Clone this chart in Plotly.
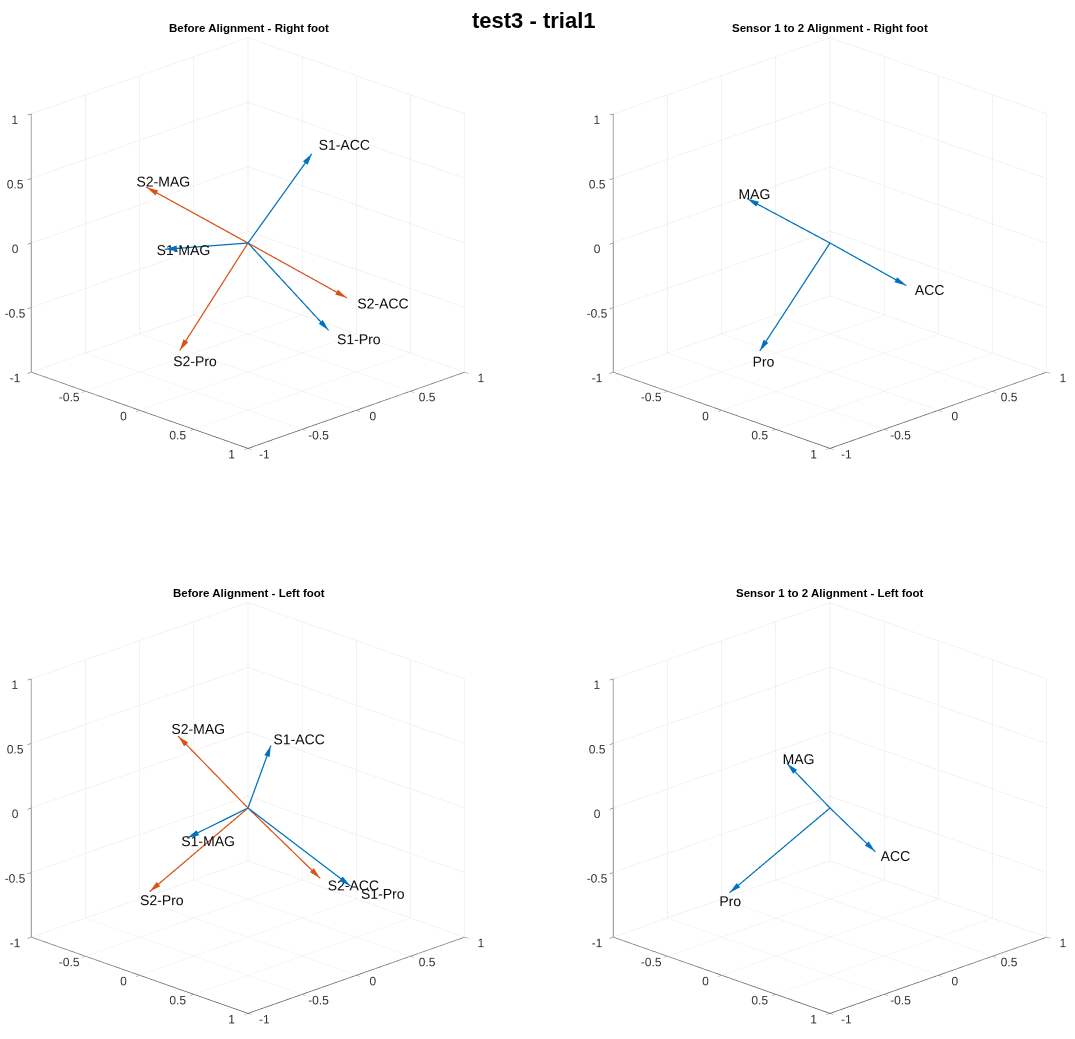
import math
import plotly.graph_objects as go

# Vector order in every set below: ACC, MAG, Pro  (x, y, z components)
vec_names = ["ACC", "MAG", "Pro"]

right_before_s1 = [(0.150, 0.440, 0.606), (-0.374, -0.395, -0.043), (0.514, 0.230, -0.593)]
right_before_s2 = [(0.546, 0.368, -0.373), (-0.560, -0.378, 0.379), (-0.141, -0.489, -0.729)]
left_before_s1 = [(0.004, 0.207, 0.424), (-0.232, -0.330, -0.204), (0.599, 0.346, -0.529)]
left_before_s2 = [(0.447, 0.219, -0.477), (-0.439, -0.206, 0.488), (-0.318, -0.590, -0.568)]
right_aligned = [(0.421, 0.283, -0.289), (-0.455, -0.311, 0.302), (-0.149, -0.499, -0.732)]
left_aligned = [(0.279, 0.138, -0.296), (-0.270, -0.126, 0.302), (-0.326, -0.601, -0.575)]

tick_vals = [-1, -0.5, 0, 0.5, 1]
tick_text = ["-1", "-0.5", "0", "0.5", "1"]

panel_titles = [
    "Before Alignment - Right foot",
    "Sensor 1 to 2 Alignment - Right foot",
    "Before Alignment - Left foot",
    "Sensor 1 to 2 Alignment - Left foot",
]
figure_title = "test3 - trial1"

BLUE = "#0072BD"
ORANGE = "#D95319"
FONT = "Liberation Sans, Arial, Helvetica, sans-serif"

LABEL_GAP = 1.1     # labels sit just beyond the arrow tips
LABEL_NUDGE = -0.06  # pulls labels back toward the tip (screen-left in this view)
HEAD_LEN = 0.08     # arrowhead length in data units

fig = go.Figure()


def add_arrows(scene, vectors, names, color):
    lx, ly, lz = [], [], []
    for (vx, vy, vz) in vectors:
        lx += [0, vx, None]
        ly += [0, vy, None]
        lz += [0, vz, None]
    fig.add_trace(go.Scatter3d(
        x=lx, y=ly, z=lz, mode="lines", scene=scene,
        line=dict(color=color, width=2.5), hoverinfo="skip", showlegend=False))
    hu, hv, hw = [], [], []
    for (vx, vy, vz) in vectors:
        n = math.sqrt(vx * vx + vy * vy + vz * vz)
        hu.append(HEAD_LEN * vx / n)
        hv.append(HEAD_LEN * vy / n)
        hw.append(HEAD_LEN * vz / n)
    fig.add_trace(go.Cone(
        x=[v[0] for v in vectors], y=[v[1] for v in vectors], z=[v[2] for v in vectors],
        u=hu, v=hv, w=hw, anchor="tip", sizemode="raw", sizeref=1,
        colorscale=[[0, color], [1, color]], showscale=False, scene=scene,
        lighting=dict(ambient=1, diffuse=0, specular=0, fresnel=0), hoverinfo="skip"))
    fig.add_trace(go.Scatter3d(
        x=[LABEL_GAP * v[0] + LABEL_NUDGE for v in vectors],
        y=[LABEL_GAP * v[1] + LABEL_NUDGE for v in vectors],
        z=[LABEL_GAP * v[2] for v in vectors],
        mode="text", text=names, textposition="middle right", scene=scene,
        textfont=dict(family=FONT, size=14, color="#111111"),
        hoverinfo="skip", showlegend=False))


add_arrows("scene", right_before_s1, ["S1-" + n for n in vec_names], BLUE)
add_arrows("scene", right_before_s2, ["S2-" + n for n in vec_names], ORANGE)
add_arrows("scene2", right_aligned, vec_names, BLUE)
add_arrows("scene3", left_before_s1, ["S1-" + n for n in vec_names], BLUE)
add_arrows("scene3", left_before_s2, ["S2-" + n for n in vec_names], ORANGE)
add_arrows("scene4", left_aligned, vec_names, BLUE)

W, H = 1075, 1039
EL = math.radians(20.6)
R = 1.5
eye = dict(x=R * math.cos(EL) / math.sqrt(2), y=-R * math.cos(EL) / math.sqrt(2), z=R * math.sin(EL))
ZOOM = 1.333


def axis():
    return dict(
        range=[-1, 1], tickvals=tick_vals, ticktext=tick_text, autorange=False,
        showgrid=True, gridcolor="#e6e6e6", gridwidth=1, zeroline=False,
        showline=True, linecolor="#4d4d4d", linewidth=1.5,
        ticks="inside", ticklen=5, tickcolor="#4d4d4d", tickangle=0,
        tickfont=dict(family=FONT, size=12, color="#333333"),
        title=dict(text=""), showbackground=False, showspikes=False)


def scene(cx, cy, x0, x1, half_h=230):
    y0 = max(0.0, 1 - (cy + half_h) / H)
    y1 = min(1.0, 1 - (cy - half_h) / H)
    return dict(
        domain=dict(x=[x0 / W, x1 / W], y=[y0, y1]),
        xaxis=axis(), yaxis=axis(), zaxis=axis(),
        aspectmode="manual", aspectratio=dict(x=ZOOM, y=ZOOM, z=0.9 * ZOOM),
        camera=dict(eye=eye, up=dict(x=0, y=0, z=1), center=dict(x=0, y=0, z=0),
                    projection=dict(type="orthographic")),
        bgcolor="rgba(0,0,0,0)")


title_pos = [(249, 28), (830, 28), (249, 593), (830, 593)]

annotations = [dict(text="<b>%s</b>" % figure_title, x=534 / W, y=1 - 20 / H,
                    xref="paper", yref="paper", xanchor="center", yanchor="middle",
                    showarrow=False, font=dict(family=FONT, size=22, color="#000000"))]
for t, (tx, ty) in zip(panel_titles, title_pos):
    annotations.append(dict(text="<b>%s</b>" % t, x=tx / W, y=1 - ty / H,
                            xref="paper", yref="paper", xanchor="center", yanchor="middle",
                            showarrow=False, font=dict(family=FONT, size=11.5, color="#000000")))

fig.update_layout(
    width=W, height=H, margin=dict(l=0, r=0, t=0, b=0),
    paper_bgcolor="white", plot_bgcolor="white", showlegend=False,
    scene=scene(248, 243, 0, 496), scene2=scene(830, 243, 585, 1075),
    scene3=scene(248, 808, 0, 496), scene4=scene(830, 808, 585, 1075),
    annotations=annotations)

fig.write_html("out.html")
